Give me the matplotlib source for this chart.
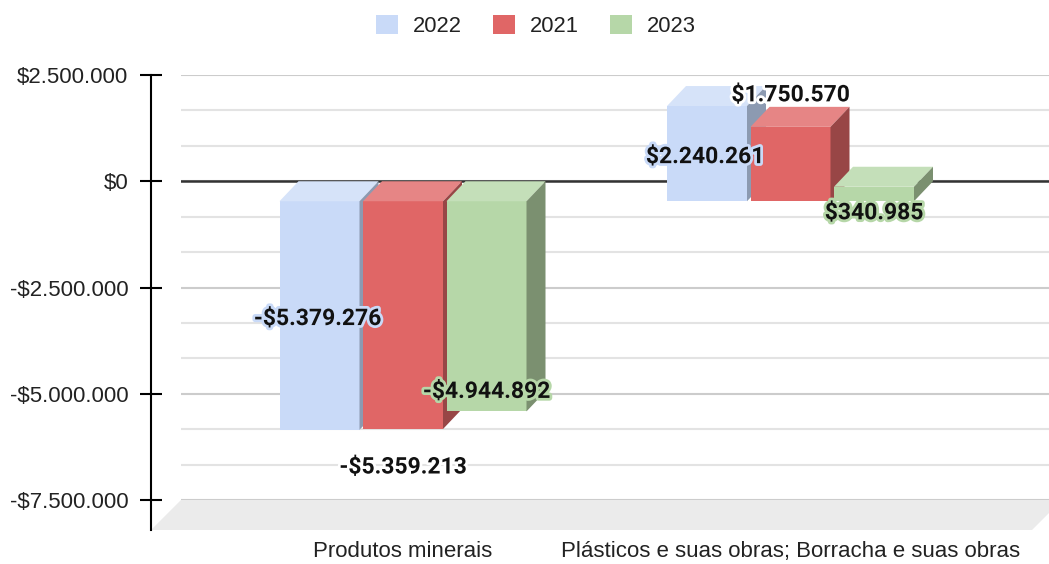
import numpy as np
import matplotlib
matplotlib.use("Agg")
import matplotlib.pyplot as plt
from matplotlib.patches import Polygon, Patch
from matplotlib.ticker import MultipleLocator, FuncFormatter
import matplotlib.patheffects as pe

# data
categories = ["Produtos minerais", "Plásticos e suas obras; Borracha e suas obras"]
series_names = ["2022", "2021", "2023"]
values_2022 = [-5379276, 2240261]
values_2021 = [-5359213, 1750570]
values_2023 = [-4944892, 340985]
all_values = [values_2022, values_2021, values_2023]

# colours: front, top, side, label halo
front_colors = ["#c9daf8", "#e06666", "#b6d7a8"]
top_colors = ["#d6e3f9", "#e68585", "#c4dfb9"]
side_colors = ["#8c9ab1", "#984646", "#7b9070"]
halo_colors = ["#c9daf8", "white", "#b6d7a8"]
label_modes = ["center", "outside", "inside"]

plt.rcParams["font.family"] = ["Liberation Sans", "DejaVu Sans"]

W, H = 1049, 564
fig = plt.figure(figsize=(W / 100, H / 100), dpi=100)

# back plane of the 3d chart, in pixels
left_px, right_px, top_px, bottom_px = 181, 1049, 75, 500
ax = fig.add_axes([left_px / W, (H - bottom_px) / H,
                   (right_px - left_px) / W, (bottom_px - top_px) / H])

ymin, ymax = -7500000, 2500000
group_px = 387.5          # pixels between categories
first_center_px = 403
ax.set_ylim(ymin, ymax)
ax.set_xlim((left_px - first_center_px) / group_px, (right_px - first_center_px) / group_px)


def dx(px):
    return px / group_px


def dv(px):
    return px * (ymax - ymin) / (bottom_px - top_px)


depth_x, depth_y = dx(19), dv(20)     # bar depth
floor_x, floor_y = dx(30), dv(30)     # floor depth

# floor
x0, x1 = ax.get_xlim()
floor = Polygon([(x0, ymin), (x1 + dx(13), ymin), (x1 + dx(13) - floor_x, ymin - floor_y),
                 (x0 - floor_x, ymin - floor_y)], closed=True,
                facecolor="#ebebeb", edgecolor="none", zorder=0.5, clip_on=False)
ax.add_patch(floor)

# grid
ax.yaxis.set_major_locator(MultipleLocator(2500000))
ax.yaxis.set_minor_locator(MultipleLocator(2500000 / 3))
ax.grid(which="major", axis="y", color="#cccccc", lw=1.5, zorder=1)
ax.grid(which="minor", axis="y", color="#e3e3e3", lw=1.5, zorder=1)
ax.set_axisbelow(True)
ax.axhline(0, color="#333333", lw=1.8, zorder=1.5)

# left axis on the front plane
for s in ["top", "right", "bottom"]:
    ax.spines[s].set_visible(False)
ax.spines["left"].set_position(("outward", 30 * 0.72))
ax.spines["left"].set_bounds(ymin - floor_y, ymax)
ax.spines["left"].set_linewidth(1.5)


def money(v, pos=None):
    s = "{:,.0f}".format(abs(v)).replace(",", ".")
    return ("-$" if v < 0 else "$") + s


ax.yaxis.set_major_formatter(FuncFormatter(money))
ax.tick_params(axis="y", which="major", direction="inout", length=22 * 0.72, width=1.5,
               pad=8.5, labelsize=16, labelcolor="#222222")
ax.tick_params(axis="y", which="minor", length=0)

# category labels
x = np.arange(len(categories))
ax.set_xticks(x, categories)
ax.tick_params(axis="x", length=0, pad=29.5, labelsize=16, labelcolor="#222222")

# bars
bar_w = dx(80)
step = dx(83.5)
for i, vals in enumerate(all_values):
    xs = x + (i - 1) * step
    ax.bar(xs, vals, width=bar_w, bottom=-depth_y, color=front_colors[i],
           zorder=3, clip_on=False)
    for xc, v in zip(xs, vals):
        xl, xr = xc - bar_w / 2, xc + bar_w / 2
        yt = max(v, 0) - depth_y
        yb = min(v, 0) - depth_y
        ax.add_patch(Polygon([(xl, yt), (xr, yt), (xr + depth_x, yt + depth_y),
                              (xl + depth_x, yt + depth_y)], closed=True,
                             facecolor=top_colors[i], edgecolor="none", zorder=3, clip_on=False))
        ax.add_patch(Polygon([(xr, yt), (xr + depth_x, yt + depth_y),
                              (xr + depth_x, yb + depth_y), (xr, yb)], closed=True,
                             facecolor=side_colors[i], edgecolor="none", zorder=3, clip_on=False))

# data labels
for i, vals in enumerate(all_values):
    xs = x + (i - 1) * step
    for xc, v in zip(xs, vals):
        end = v - depth_y
        sgn = 1 if v >= 0 else -1
        if label_modes[i] == "center":
            ly = v / 2 - depth_y
            xc = xc - dx(2)
        elif label_modes[i] == "outside":
            ly = end + sgn * dv(35)
        else:
            ly = end - sgn * dv(23)
        ax.text(xc, ly - dv(3), money(v), ha="center", va="center", fontsize=16.5,
                fontweight="bold", family=["Roboto", "DejaVu Sans"], color="#111111",
                zorder=5, clip_on=False,
                path_effects=[pe.withStroke(linewidth=4, foreground=halo_colors[i])])

# legend
handles = [Patch(facecolor=c, edgecolor="none") for c in front_colors]
fig.legend(handles, series_names, loc="center", bbox_to_anchor=(536 / W, 1 - 26 / H),
           ncol=3, frameon=False, fontsize=15.8, handlelength=1.0, handleheight=1.0,
           handletextpad=0.7, columnspacing=1.4, labelcolor="#222222")

fig.savefig("out.png", dpi=100)
